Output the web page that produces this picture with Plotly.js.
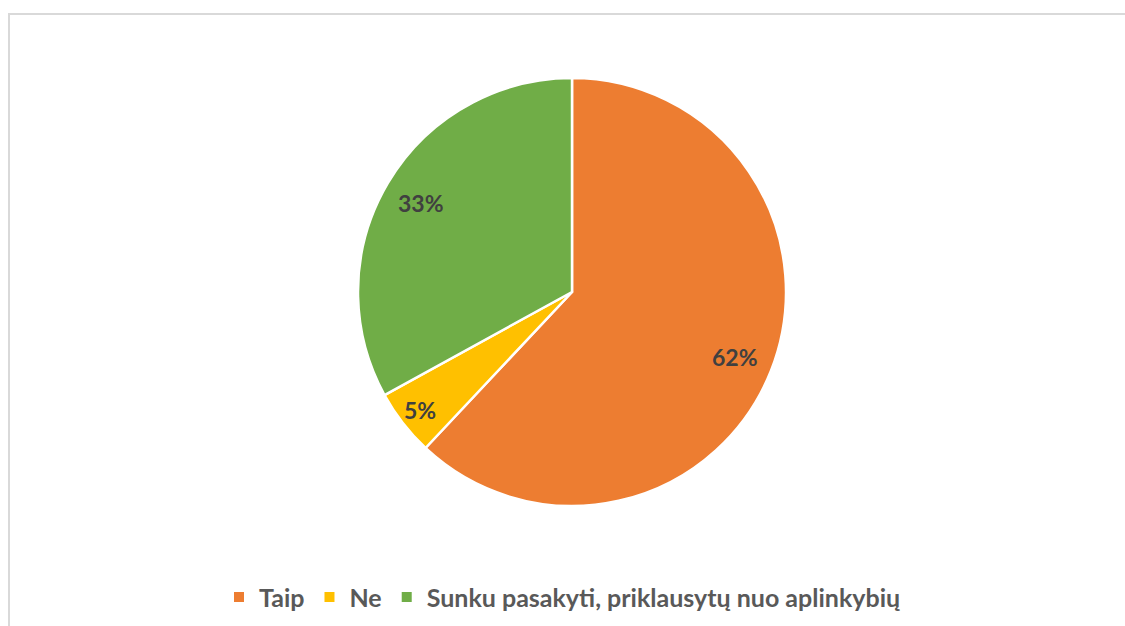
<!DOCTYPE html>
<html>
<head>
<meta charset="utf-8">
<script src="https://cdn.plot.ly/plotly-3.0.1.min.js"></script>
<style>
  html, body { margin: 0; padding: 0; background: #ffffff; }
  #wrap { position: relative; width: 1125px; height: 626px; overflow: hidden; }
  #frame { position: absolute; left: 8px; top: 13px; width: 1117px; height: 613px;
           border-top: 2px solid #d9d9d9; border-left: 2px solid #d9d9d9; box-sizing: border-box; pointer-events: none; }
  #chart { position: absolute; left: 0; top: 0; width: 1125px; height: 626px; }
</style>
</head>
<body>
<div id="wrap">
  <div id="chart"></div>
  <div id="frame"></div>
</div>
<script>
const categories = ["Taip", "Ne", "Sunku pasakyti, priklausytų nuo aplinkybių"];
const values = [62, 5, 33];
const colors = ["#ED7D31", "#FFC000", "#70AD47"];

const W = 1125, H = 626;
const dom = { x: [0.3182, 0.6987], y: [0.1917, 0.8754] };

const trace = {
  type: "pie",
  labels: categories,
  values: values,
  sort: false,
  direction: "clockwise",
  rotation: 0,
  marker: { colors: colors, line: { color: "#ffffff", width: 2.5 } },
  textinfo: "none",
  hoverinfo: "label+percent",
  domain: dom
};

// Data labels placed like Excel "best fit": along each slice's mid-angle
const total = values.reduce((a, b) => a + b, 0);
const cx = (dom.x[0] + dom.x[1]) / 2;
const cy = (dom.y[0] + dom.y[1]) / 2;
const R = Math.min((dom.x[1] - dom.x[0]) * W, (dom.y[1] - dom.y[0]) * H) / 2;
const annotations = [];
let cum = 0;
values.forEach((v, i) => {
  const frac = v / total;
  const mid = (cum + frac / 2) * 2 * Math.PI;
  cum += frac;
  const rf = frac < 0.1 ? 0.9 : 0.82;
  const dx = Math.sin(mid) * R * rf;
  const dy = Math.cos(mid) * R * rf;
  annotations.push({
    xref: "paper", yref: "paper",
    x: cx + dx / W, y: cy + dy / H,
    xanchor: "center", yanchor: "middle",
    showarrow: false,
    text: Math.round(frac * 100) + "%",
    font: { family: "Lato, 'Open Sans', sans-serif", size: 23, color: "#404040", weight: "bold" }
  });
});

const layout = {
  width: W,
  height: H,
  margin: { l: 0, r: 0, t: 0, b: 0 },
  paper_bgcolor: "#ffffff",
  showlegend: true,
  annotations: annotations,
  legend: {
    orientation: "h",
    x: 0.5, xanchor: "center",
    y: 0.046, yanchor: "middle",
    font: { family: "Lato, 'Open Sans', sans-serif", size: 25, color: "#595959", weight: "bold" },
    itemsizing: "constant",
    itemwidth: 30,
    traceorder: "normal"
  }
};

Plotly.newPlot("chart", [trace], layout, { displayModeBar: false, staticPlot: true });
</script>
</body>
</html>
